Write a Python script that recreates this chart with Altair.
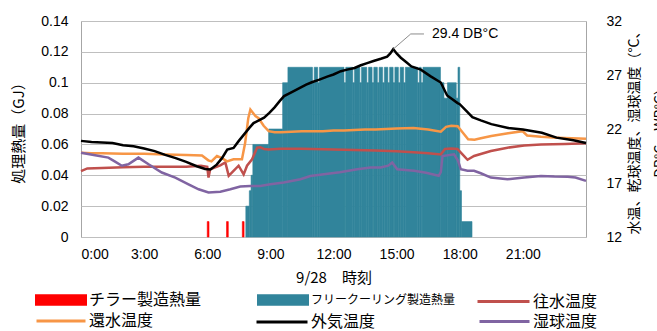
import altair as alt
import pandas as pd

JP = "Noto Sans CJK JP"
NUM = "Liberation Sans"

# ---------------- data ----------------
# Chiller production heat (GJ), 5-minute slots
CHILLER_TIMES = ["6:00", "6:55", "7:40"]
CHILLER_HEAT = [0.01, 0.01, 0.01]

# Free-cooling production heat (GJ), consecutive 5-minute slots from 7:50
FC_FIRST_SLOT = "7:50"
FC_HEAT = [
    0.02, 0.02, 0.03, 0.04, 0.06, 0.06, 0.06, 0.06, 0.06, 0.06, 0.06, 0.06,
    0.06, 0.07, 0.07, 0.07, 0.07, 0.07, 0.07, 0.07, 0.07, 0.10, 0.10, 0.10,
    0.11, 0.11, 0.11, 0.11, 0.11, 0.11, 0.11, 0.11, 0.11, 0.11, 0.11, 0.11,
    0.11, 0.11, 0.10, 0.11, 0.11, 0.10, 0.11, 0.11, 0.11, 0.11, 0.11, 0.11,
    0.11, 0.11, 0.11, 0.11, 0.11, 0.11, 0.11, 0.11, 0.10, 0.11, 0.11, 0.11,
    0.11, 0.10, 0.11, 0.11, 0.11, 0.10, 0.11, 0.11, 0.11, 0.10, 0.11, 0.11,
    0.10, 0.11, 0.11, 0.10, 0.11, 0.11, 0.10, 0.11, 0.11, 0.10, 0.11, 0.11,
    0.10, 0.11, 0.11, 0.10, 0.11, 0.11, 0.10, 0.11, 0.11, 0.11, 0.11, 0.11,
    0.11, 0.11, 0.10, 0.11, 0.10, 0.11, 0.11, 0.11, 0.11, 0.11, 0.11, 0.11,
    0.11, 0.11, 0.11, 0.10, 0.10, 0.09, 0.09, 0.10, 0.10, 0.10, 0.10, 0.10,
    0.09, 0.11, 0.03, 0.01, 0.01, 0.01, 0.01, 0.01, 0.01,
]

# Supply water temperature (°C), time in hours
SUPPLY_T = [0.0, 0.3, 1.0, 2.0, 3.0, 4.0, 5.0, 5.7, 6.0, 6.06, 6.14, 6.62, 6.86,
            7.02, 7.25, 7.49, 7.73, 7.89, 8.13, 8.37, 8.52, 8.7, 8.92, 9.48,
            10.43, 11.0, 12.0, 13.0, 14.0, 15.0, 15.8, 16.5, 17.1, 17.3, 17.6,
            17.89, 18.13, 18.37, 18.68, 19.48, 20.27, 21.06, 21.86, 23.0, 24.0]
SUPPLY_V = [18.1, 18.35, 18.4, 18.45, 18.5, 18.5, 18.5, 18.6, 18.5, 17.5, 18.27,
            18.64, 18.9, 17.67, 18.13, 18.6, 17.8, 18.6, 19.2, 20.27, 20.3, 20.15,
            20.1, 20.17, 20.17, 20.15, 20.1, 20.05, 20.0, 19.95, 19.85, 19.75,
            19.65, 20.15, 20.2, 20.15, 19.65, 19.15, 19.5, 19.96, 20.27, 20.48,
            20.57, 20.62, 20.67]

# Return water temperature (°C)
RETURN_T = [0.0, 0.5, 1.0, 2.0, 3.0, 4.0, 5.0, 5.75, 6.05, 6.2, 6.46, 6.7, 6.94,
            7.25, 7.65, 7.8, 7.95, 8.05, 8.13, 8.29, 8.44, 8.68, 8.92, 9.2, 9.5,
            10.0, 10.5, 11.0, 11.5, 12.0, 12.5, 13.0, 13.5, 14.0, 14.5, 15.0,
            15.8, 16.5, 17.1, 17.35, 17.6, 17.9, 18.13, 18.4, 18.7, 19.0, 19.5,
            20.3, 20.98, 21.2, 21.86, 22.65, 24.0]
RETURN_V = [19.8, 19.75, 19.75, 19.7, 19.7, 19.65, 19.6, 19.55, 19.1, 19.0, 19.5,
            19.3, 19.0, 19.2, 19.2, 20.7, 23.0, 23.8, 23.6, 23.2, 23.0, 22.3, 21.8,
            21.7, 21.7, 21.75, 21.8, 21.8, 21.8, 21.85, 21.85, 21.9, 21.95, 21.95,
            22.0, 22.05, 22.1, 21.95, 21.75, 22.2, 22.3, 22.25, 21.7, 21.05, 21.0,
            21.15, 21.35, 21.6, 21.8, 21.4, 21.28, 21.2, 21.1]

# Outdoor air dry-bulb temperature (°C)
OUTDOOR_T = [0.0, 0.5, 1.0, 1.5, 2.0, 2.5, 3.0, 3.5, 4.0, 4.5, 5.0, 5.5, 5.9,
             6.15, 6.45, 6.7, 6.95, 7.25, 7.5, 7.75, 8.0, 8.2, 8.45, 8.7, 8.95,
             9.2, 9.45, 9.65, 9.95, 10.2, 10.45, 10.7, 11.0, 11.3, 11.7, 12.0,
             12.35, 12.65, 13.0, 13.3, 13.6, 13.9, 14.25, 14.55, 14.7, 14.84,
             15.0, 15.2, 15.45, 15.7, 16.15, 16.6, 17.1, 17.4, 17.9, 18.0, 18.3,
             18.6, 19.0, 19.5, 20.3, 21.0, 21.9, 22.6, 23.4, 24.0]
OUTDOOR_V = [20.9, 20.8, 20.75, 20.7, 20.5, 20.4, 20.2, 19.95, 19.6, 19.3, 18.95,
             18.55, 18.3, 18.25, 18.7, 19.3, 20.1, 20.25, 20.9, 21.5, 22.1, 22.55,
             22.8, 23.05, 23.5, 24.0, 24.6, 25.05, 25.35, 25.6, 25.85, 26.1, 26.35,
             26.55, 26.85, 27.05, 27.35, 27.5, 27.65, 27.9, 28.1, 28.3, 28.5, 28.7,
             29.0, 29.4, 29.0, 28.6, 28.2, 27.8, 27.5, 26.9, 26.3, 25.1, 24.4,
             24.3, 23.7, 23.1, 22.8, 22.45, 22.1, 21.95, 21.65, 21.2, 20.95, 20.7]

# Wet-bulb temperature (°C)
WETBULB_T = [0.0, 0.67, 1.3, 1.6, 1.94, 2.25, 2.73, 3.21, 3.84, 4.48, 5.11, 5.59,
             6.06, 6.62, 7.1, 7.57, 8.05, 8.52, 9.0, 9.63, 10.43, 10.9, 11.54,
             12.3, 13.13, 13.76, 14.24, 14.6, 14.79, 15.03, 15.83, 16.4, 17.0,
             17.1, 17.18, 17.73, 17.92, 18.05, 18.37, 18.68, 19.0, 19.48, 20.27,
             21.06, 21.86, 22.5, 23.13, 23.5, 24.0]
WETBULB_V = [19.8, 19.56, 19.35, 19.0, 18.6, 18.73, 19.35, 18.73, 17.97, 17.5,
             16.88, 16.42, 16.12, 16.2, 16.42, 16.67, 16.73, 16.73, 16.88, 17.05,
             17.35, 17.65, 17.8, 18.0, 18.27, 18.43, 18.43, 18.6, 18.9, 18.27,
             18.13, 17.95, 17.67, 18.0, 19.5, 19.65, 19.05, 18.27, 18.13, 18.13,
             17.9, 17.5, 17.35, 17.5, 17.65, 17.6, 17.58, 17.5, 17.2]

HOUR_TICKS = [0, 3, 6, 9, 12, 15, 18, 21]
HEAT_TICKS = [0, 0.02, 0.04, 0.06, 0.08, 0.1, 0.12, 0.14]
TEMP_TICKS = [12, 17, 22, 27, 32]

COLORS = {
    "チラー製造熱量": "#FF0000",
    "フリークーリング製造熱量": "#31849B",
    "往水温度": "#C0504D",
    "還水温度": "#F79646",
    "外気温度": "#000000",
    "湿球温度": "#8064A2",
}

SLOT_H = 5 / 60


def to_hours(s):
    h, m = s.split(":")
    return int(h) + int(m) / 60


def heat_runs(starts, values):
    """Merge consecutive 5-minute slots of equal heat into single bars."""
    rows = []
    for t, v in zip(starts, values):
        if rows and abs(rows[-1]["t2"] - t) < 1e-9 and rows[-1]["v"] == v:
            rows[-1]["t2"] = t + SLOT_H
        else:
            rows.append({"t": t, "t2": t + SLOT_H, "v": v})
    return pd.DataFrame(rows)


fc_start = to_hours(FC_FIRST_SLOT)
fc_df = heat_runs([fc_start + i * SLOT_H for i in range(len(FC_HEAT))], FC_HEAT)
fc_df["series"] = "フリークーリング製造熱量"
ch_df = heat_runs([to_hours(s) for s in CHILLER_TIMES], CHILLER_HEAT)
ch_df["series"] = "チラー製造熱量"

# ---------------- scales / axes ----------------
x_scale = alt.Scale(domain=[0, 24], nice=False)
x_axis = alt.Axis(values=HOUR_TICKS, labelExpr="datum.value + ':00'", grid=False,
                  title="9/28　時刻", labelPadding=10, titlePadding=9)
heat_scale = alt.Scale(domain=[0, 0.14], nice=False)
heat_axis = alt.Axis(values=HEAT_TICKS, format=".2~f", grid=True, orient="left",
                     title="処理熱量（GJ）", labelPadding=13, titlePadding=14)
temp_scale = alt.Scale(domain=[12, 32], nice=False)
temp_axis = alt.Axis(values=TEMP_TICKS, grid=False, orient="right",
                     title=["水温、乾球温度、湿球温度（°C、",
                            "\u3000\u3000\u3000\u3000\u3000\u3000DB°C、WB°C）"],
                     titleAngle=270, labelPadding=20, titlePadding=-6,
                     titleFontSize=14, titleLineHeight=26)

BAR_SYMBOL = "M-1,-0.17H1V0.17H-1Z"


def entry_legend(x, y, symbol, size, font_size=16):
    # legends are anchored by the top of their (symbol-high) entry row
    return alt.Legend(orient="none", legendX=x, legendY=y, title=None,
                      symbolType=symbol, symbolSize=size, symbolStrokeWidth=3,
                      labelFont=JP, labelFontSize=font_size, labelColor="#000",
                      labelOffset=2)


def series_color(name, legend):
    return alt.Color("series:N",
                     scale=alt.Scale(domain=[name], range=[COLORS[name]]),
                     legend=legend)


def bar_layer(df, name, legend):
    return alt.Chart(df).mark_bar(strokeWidth=0.6, stroke=COLORS[name]).encode(
        x=alt.X("t:Q", scale=x_scale, axis=x_axis),
        x2="t2:Q",
        y=alt.Y("v:Q", scale=heat_scale, axis=heat_axis),
        y2=alt.datum(0),
        color=series_color(name, legend),
    )


def line_layer(name, times, values, legend, width=2.5):
    df = pd.DataFrame({"t": times, "v": values, "series": name})
    return alt.Chart(df).mark_line(strokeWidth=width).encode(
        x=alt.X("t:Q", scale=x_scale, axis=x_axis),
        y=alt.Y("v:Q", scale=temp_scale, axis=temp_axis),
        color=series_color(name, legend),
    )


ROW1, ROW2 = 253, 274

bars = alt.layer(
    bar_layer(ch_df, "チラー製造熱量",
              entry_legend(-46, ROW1, BAR_SYMBOL, 2401)),
    bar_layer(fc_df, "フリークーリング製造熱量",
              entry_legend(176, ROW1, BAR_SYMBOL, 2401, font_size=12)),
).resolve_scale(color="independent")

# peak annotation for the outdoor dry-bulb temperature
peak_i = max(range(len(OUTDOOR_V)), key=lambda i: OUTDOOR_V[i])
peak_t, peak_v = OUTDOOR_T[peak_i], OUTDOOR_V[peak_i]
leader_df = pd.DataFrame({"t": [peak_t, peak_t + 0.83, peak_t + 1.46],
                          "v": [peak_v, peak_v + 1.4, peak_v + 1.4]})
label_df = pd.DataFrame({"t": [peak_t + 1.46], "v": [peak_v + 1.4],
                         "label": [f"{peak_v:.1f} DB°C"]})

leader = alt.Chart(leader_df).mark_line(color="#8C8C8C", strokeWidth=1).encode(
    x=alt.X("t:Q", scale=x_scale, axis=x_axis),
    y=alt.Y("v:Q", scale=temp_scale, axis=temp_axis),
)
peak_label = alt.Chart(label_df).mark_text(
    align="left", baseline="middle", dx=8, font=NUM, fontSize=14, color="#000"
).encode(
    x=alt.X("t:Q", scale=x_scale, axis=x_axis),
    y=alt.Y("v:Q", scale=temp_scale, axis=temp_axis),
    text="label:N",
)

lines = alt.layer(
    line_layer("往水温度", SUPPLY_T, SUPPLY_V,
               entry_legend(395, ROW1, "stroke", 2704)),
    line_layer("還水温度", RETURN_T, RETURN_V,
               entry_legend(-46, ROW2, "stroke", 2401)),
    line_layer("湿球温度", WETBULB_T, WETBULB_V,
               entry_legend(397, ROW2, "stroke", 2500)),
    line_layer("外気温度", OUTDOOR_T, OUTDOOR_V,
               entry_legend(174, ROW2, "stroke", 2601)),
    leader,
    peak_label,
).resolve_scale(color="independent")

chart = alt.layer(bars, lines).resolve_scale(
    y="independent", color="independent"
).properties(
    width=505, height=216,
    padding={"left": 81, "top": 21, "right": 71, "bottom": 94},
    autosize=alt.AutoSizeParams(type="none"),
).configure_view(
    stroke="#A6A6A6", strokeWidth=1
).configure_axis(
    labelFont=NUM, labelFontSize=14, labelColor="#000",
    titleFont=JP, titleFontSize=15, titleColor="#000", titleFontWeight="normal",
    gridColor="#BFBFBF", gridWidth=1, ticks=False, domain=False,
)

chart.save("out.html", embed_options={"renderer": "svg", "actions": False})
